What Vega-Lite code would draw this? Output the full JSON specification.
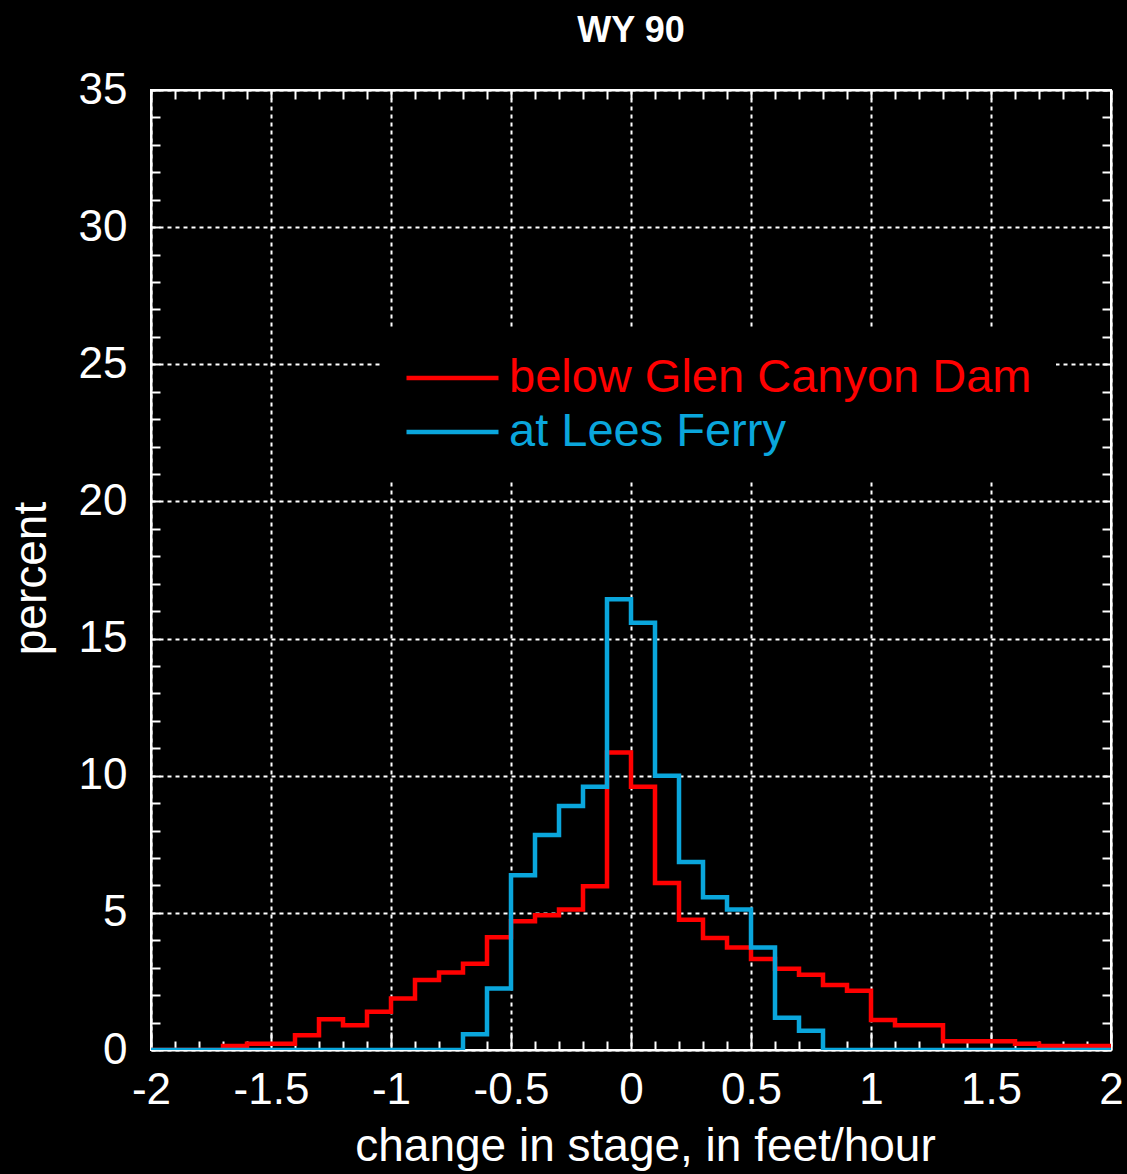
{
  "$schema": "https://vega.github.io/schema/vega-lite/v6.json",
  "width": 960,
  "height": 960,
  "autosize": {"type": "none"},
  "padding": {"left": 151, "top": 90, "right": 16, "bottom": 124},
  "background": "black",
  "title": {"text": "WY 90", "color": "white", "font": "Liberation Sans", "fontWeight": "bold", "fontSize": 36, "offset": 18, "anchor": "middle"},
  "config": {
    "view": {"stroke": "white", "strokeWidth": 2},
    "axis": {"domainColor": "white", "domainWidth": 2, "tickColor": "white", "tickWidth": 2, "gridColor": "white", "gridDash": [4, 4], "gridWidth": 2, "labelColor": "white", "titleColor": "white", "labelFont": "Liberation Sans", "titleFont": "Liberation Sans", "labelFontSize": 44, "titleFontSize": 46, "titleFontWeight": "normal"}
  },
  "data": {"values": [
    {"x": -2.0, "pct": 0, "series": "below Glen Canyon Dam"},
    {"x": -1.9, "pct": 0, "series": "below Glen Canyon Dam"},
    {"x": -1.8, "pct": 0, "series": "below Glen Canyon Dam"},
    {"x": -1.7, "pct": 0.15, "series": "below Glen Canyon Dam"},
    {"x": -1.6, "pct": 0.23, "series": "below Glen Canyon Dam"},
    {"x": -1.5, "pct": 0.23, "series": "below Glen Canyon Dam"},
    {"x": -1.4, "pct": 0.54, "series": "below Glen Canyon Dam"},
    {"x": -1.3, "pct": 1.12, "series": "below Glen Canyon Dam"},
    {"x": -1.2, "pct": 0.9, "series": "below Glen Canyon Dam"},
    {"x": -1.1, "pct": 1.39, "series": "below Glen Canyon Dam"},
    {"x": -1.0, "pct": 1.88, "series": "below Glen Canyon Dam"},
    {"x": -0.9, "pct": 2.55, "series": "below Glen Canyon Dam"},
    {"x": -0.8, "pct": 2.83, "series": "below Glen Canyon Dam"},
    {"x": -0.7, "pct": 3.14, "series": "below Glen Canyon Dam"},
    {"x": -0.6, "pct": 4.11, "series": "below Glen Canyon Dam"},
    {"x": -0.5, "pct": 4.69, "series": "below Glen Canyon Dam"},
    {"x": -0.4, "pct": 4.91, "series": "below Glen Canyon Dam"},
    {"x": -0.3, "pct": 5.12, "series": "below Glen Canyon Dam"},
    {"x": -0.2, "pct": 5.97, "series": "below Glen Canyon Dam"},
    {"x": -0.1, "pct": 10.85, "series": "below Glen Canyon Dam"},
    {"x": 0.0, "pct": 9.6, "series": "below Glen Canyon Dam"},
    {"x": 0.1, "pct": 6.09, "series": "below Glen Canyon Dam"},
    {"x": 0.2, "pct": 4.75, "series": "below Glen Canyon Dam"},
    {"x": 0.3, "pct": 4.08, "series": "below Glen Canyon Dam"},
    {"x": 0.4, "pct": 3.74, "series": "below Glen Canyon Dam"},
    {"x": 0.5, "pct": 3.32, "series": "below Glen Canyon Dam"},
    {"x": 0.6, "pct": 2.96, "series": "below Glen Canyon Dam"},
    {"x": 0.7, "pct": 2.74, "series": "below Glen Canyon Dam"},
    {"x": 0.8, "pct": 2.37, "series": "below Glen Canyon Dam"},
    {"x": 0.9, "pct": 2.16, "series": "below Glen Canyon Dam"},
    {"x": 1.0, "pct": 1.09, "series": "below Glen Canyon Dam"},
    {"x": 1.1, "pct": 0.9, "series": "below Glen Canyon Dam"},
    {"x": 1.2, "pct": 0.9, "series": "below Glen Canyon Dam"},
    {"x": 1.3, "pct": 0.32, "series": "below Glen Canyon Dam"},
    {"x": 1.4, "pct": 0.32, "series": "below Glen Canyon Dam"},
    {"x": 1.5, "pct": 0.32, "series": "below Glen Canyon Dam"},
    {"x": 1.6, "pct": 0.23, "series": "below Glen Canyon Dam"},
    {"x": 1.7, "pct": 0.15, "series": "below Glen Canyon Dam"},
    {"x": 1.8, "pct": 0.15, "series": "below Glen Canyon Dam"},
    {"x": 1.9, "pct": 0.15, "series": "below Glen Canyon Dam"},
    {"x": 2.0, "pct": 0.15, "series": "below Glen Canyon Dam"},
    {"x": -2.0, "pct": 0, "series": "at Lees Ferry"},
    {"x": -1.9, "pct": 0, "series": "at Lees Ferry"},
    {"x": -1.8, "pct": 0, "series": "at Lees Ferry"},
    {"x": -1.7, "pct": 0, "series": "at Lees Ferry"},
    {"x": -1.6, "pct": 0, "series": "at Lees Ferry"},
    {"x": -1.5, "pct": 0, "series": "at Lees Ferry"},
    {"x": -1.4, "pct": 0, "series": "at Lees Ferry"},
    {"x": -1.3, "pct": 0, "series": "at Lees Ferry"},
    {"x": -1.2, "pct": 0, "series": "at Lees Ferry"},
    {"x": -1.1, "pct": 0, "series": "at Lees Ferry"},
    {"x": -1.0, "pct": 0, "series": "at Lees Ferry"},
    {"x": -0.9, "pct": 0, "series": "at Lees Ferry"},
    {"x": -0.8, "pct": 0, "series": "at Lees Ferry"},
    {"x": -0.7, "pct": 0.57, "series": "at Lees Ferry"},
    {"x": -0.6, "pct": 2.24, "series": "at Lees Ferry"},
    {"x": -0.5, "pct": 6.37, "series": "at Lees Ferry"},
    {"x": -0.4, "pct": 7.84, "series": "at Lees Ferry"},
    {"x": -0.3, "pct": 8.9, "series": "at Lees Ferry"},
    {"x": -0.2, "pct": 9.6, "series": "at Lees Ferry"},
    {"x": -0.1, "pct": 16.43, "series": "at Lees Ferry"},
    {"x": 0.0, "pct": 15.58, "series": "at Lees Ferry"},
    {"x": 0.1, "pct": 10.0, "series": "at Lees Ferry"},
    {"x": 0.2, "pct": 6.85, "series": "at Lees Ferry"},
    {"x": 0.3, "pct": 5.57, "series": "at Lees Ferry"},
    {"x": 0.4, "pct": 5.12, "series": "at Lees Ferry"},
    {"x": 0.5, "pct": 3.74, "series": "at Lees Ferry"},
    {"x": 0.6, "pct": 1.18, "series": "at Lees Ferry"},
    {"x": 0.7, "pct": 0.7, "series": "at Lees Ferry"},
    {"x": 0.8, "pct": 0, "series": "at Lees Ferry"},
    {"x": 0.9, "pct": 0, "series": "at Lees Ferry"},
    {"x": 1.0, "pct": 0, "series": "at Lees Ferry"},
    {"x": 1.1, "pct": 0, "series": "at Lees Ferry"},
    {"x": 1.2, "pct": 0, "series": "at Lees Ferry"},
    {"x": 1.3, "pct": 0, "series": "at Lees Ferry"},
    {"x": 1.4, "pct": 0, "series": "at Lees Ferry"},
    {"x": 1.5, "pct": 0, "series": "at Lees Ferry"},
    {"x": 1.6, "pct": 0, "series": "at Lees Ferry"},
    {"x": 1.7, "pct": 0, "series": "at Lees Ferry"},
    {"x": 1.8, "pct": 0, "series": "at Lees Ferry"},
    {"x": 1.9, "pct": 0, "series": "at Lees Ferry"},
    {"x": 2.0, "pct": 0, "series": "at Lees Ferry"}
  ]},
  "resolve": {"axis": {"x": "independent", "y": "independent"}},
  "layer": [
    {
      "transform": [{"filter": "datum.series == 'below Glen Canyon Dam'"}],
      "mark": {"type": "line", "interpolate": "step-after", "strokeWidth": 4.5, "clip": true},
      "encoding": {
        "x": {"field": "x", "type": "quantitative", "scale": {"domain": [-2, 2], "nice": false, "zero": false},
          "axis": {"orient": "bottom", "title": "change in stage, in feet/hour", "titleX": 494, "titleY": 110, "titleBaseline": "alphabetic", "titleAlign": "center",
            "values": [-2,-1.9,-1.8,-1.7,-1.6,-1.5,-1.4,-1.3,-1.2,-1.1,-1,-0.9,-0.8,-0.7,-0.6,-0.5,-0.4,-0.3,-0.2,-0.1,0,0.1,0.2,0.3,0.4,0.5,0.6,0.7,0.8,0.9,1,1.1,1.2,1.3,1.4,1.5,1.6,1.7,1.8,1.9,2],
            "labelExpr": "abs(datum.value*2 - round(datum.value*2)) < 0.01 ? '' + datum.value : ''",
            "tickSize": {"condition": {"test": "abs(datum.value*2 - round(datum.value*2)) < 0.01", "value": -18}, "value": -9},
            "gridOpacity": {"condition": {"test": "abs(datum.value*2 - round(datum.value*2)) < 0.01", "value": 1}, "value": 0},
            "grid": true, "labelPadding": 36, "labelFlush": false, "labelOverlap": false}},
        "y": {"field": "pct", "type": "quantitative", "scale": {"domain": [0, 35], "nice": false},
          "axis": {"orient": "left", "title": "percent", "titleAngle": -90, "titleX": -106, "titleY": 488, "titleBaseline": "alphabetic", "titleAlign": "center",
            "values": [0,1,2,3,4,5,6,7,8,9,10,11,12,13,14,15,16,17,18,19,20,21,22,23,24,25,26,27,28,29,30,31,32,33,34,35],
            "labelExpr": "datum.value % 5 == 0 ? '' + datum.value : ''",
            "tickSize": -9,
            "gridOpacity": {"condition": {"test": "datum.value % 5 == 0", "value": 1}, "value": 0},
            "grid": true, "labelPadding": 33, "labelFlush": false, "labelOverlap": false}},
        "color": {"field": "series", "type": "nominal",
          "scale": {"domain": ["below Glen Canyon Dam", "at Lees Ferry"], "range": ["#ff0000", "#0aa6dc"]},
          "legend": {"orient": "none", "legendX": 229, "legendY": 240, "title": null, "symbolType": "stroke", "symbolSize": 8464, "symbolStrokeWidth": 4.5, "labelFont": "Liberation Sans", "labelFontSize": 47, "labelOffset": 8, "labelLimit": 0, "clipHeight": 48, "rowPadding": 6, "padding": 24, "fillColor": "black",
            "encode": {"labels": {"update": {"fill": {"scale": "color", "field": "value"}}}}}}
      }
    },
    {
      "transform": [{"filter": "datum.series == 'at Lees Ferry'"}],
      "mark": {"type": "line", "interpolate": "step-after", "strokeWidth": 4.5, "clip": true},
      "encoding": {
        "x": {"field": "x", "type": "quantitative",
          "axis": {"orient": "top", "title": null, "labels": false, "grid": false,
            "values": [-2,-1.9,-1.8,-1.7,-1.6,-1.5,-1.4,-1.3,-1.2,-1.1,-1,-0.9,-0.8,-0.7,-0.6,-0.5,-0.4,-0.3,-0.2,-0.1,0,0.1,0.2,0.3,0.4,0.5,0.6,0.7,0.8,0.9,1,1.1,1.2,1.3,1.4,1.5,1.6,1.7,1.8,1.9,2],
            "tickSize": -9}},
        "y": {"field": "pct", "type": "quantitative",
          "axis": {"orient": "right", "title": null, "labels": false, "grid": false,
            "values": [0,1,2,3,4,5,6,7,8,9,10,11,12,13,14,15,16,17,18,19,20,21,22,23,24,25,26,27,28,29,30,31,32,33,34,35],
            "tickSize": -9}},
        "color": {"field": "series", "type": "nominal"}
      }
    }
  ]
}
